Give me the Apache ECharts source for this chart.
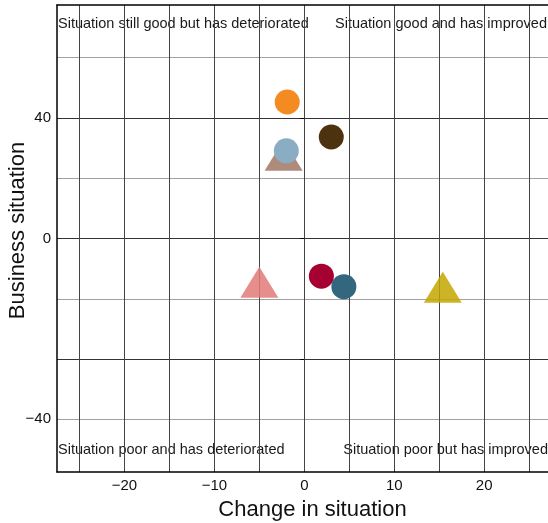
<!DOCTYPE html>
<html>
<head>
<meta charset="utf-8">
<script src="https://cdn.jsdelivr.net/npm/echarts@6/dist/echarts.min.js"></script>
<style>
  html, body { margin: 0; padding: 0; background: #fff; }
  #chart { width: 548px; height: 523px; }
</style>
</head>
<body>
<div id="chart"></div>
<script>
// values
const firms = ['A', 'B', 'C', 'D', 'E', 'F', 'G', 'H'];
const changeInSituation = [-1.9, 3.0, -2.3, -2.0, 1.9, 4.4, -5.0, 15.4];
const businessSituation = [45.3, 33.7, 27.6, 29.1, -12.5, -16.0, -14.5, -16.2];

const xTickLabels = [-20, -10, 0, 10, 20];
const yTickValues = [40, 0, -40];
// the original puts its "-40" label on the -60 line, keep it that way
const yLabelValues = [40, 0, -60];
const yLabelTexts = ['40', '0', '\u221240'];

const quadrantTexts = [
  'Situation still good but has deteriorated',
  'Situation good and has improved',
  'Situation poor and has deteriorated',
  'Situation poor but has improved'
];

// styles
const markerColors = ['#f38a22', '#4d3210', '#a07765', '#8badc4', '#a60032', '#33667f', '#e07a77', '#c4a700'];
const markerShapes = ['circle', 'circle', 'triangle', 'circle', 'circle', 'circle', 'triangle', 'triangle'];

// horizontal grid: grey every 40 from -60, dark every 40 from -40 (ticks every 2.5 from -77.5)
const yLineColors = [];
for (let i = 0; i < 16; i++) yLineColors.push('rgba(0,0,0,0)');
yLineColors[7] = '#a0a0a0';
yLineColors[15] = '#333';

const minus = v => String(v).replace('-', '\u2212');
const font = 'Liberation Sans, Arial, sans-serif';

const chart = echarts.init(document.getElementById('chart'));

const series = firms.map((f, i) => ({
  type: 'scatter',
  name: f,
  data: [[changeInSituation[i], businessSituation[i]]],
  symbol: markerShapes[i],
  symbolSize: markerShapes[i] === 'triangle' ? [38, 31] : 25,
  itemStyle: { color: markerColors[i], opacity: markerShapes[i] === 'triangle' ? 0.85 : 1 },
  emphasis: { disabled: true }
}));

const option = {
  animation: false,
  grid: { left: 57, right: 0, top: 5, bottom: 51, containLabel: false, outerBoundsMode: 'none' },
  xAxis: [
    {
      type: 'value',
      min: -27.5,
      max: 27.1,
      interval: 2.5,
      position: 'bottom',
      axisLine: { show: true, onZero: false, lineStyle: { color: '#000', width: 1.5 } },
      axisTick: { show: false },
      axisLabel: {
        color: '#111', fontSize: 15, fontFamily: font, margin: 6,
        formatter: v => xTickLabels.indexOf(Math.round(v * 100) / 100) >= 0 ? minus(Math.round(v)) : ''
      },
      splitLine: { show: true, lineStyle: { color: ['rgba(0,0,0,0)', '#444'], width: 1 } },
      name: 'Change in situation',
      nameLocation: 'middle',
      nameGap: 27,
      nameTextStyle: { fontSize: 22, color: '#111', fontFamily: font, padding: [0, 0, 0, 20] }
    },
    {
      type: 'value',
      min: -27.5,
      max: 27.1,
      position: 'top',
      axisLine: { show: true, onZero: false, lineStyle: { color: '#000', width: 1.5 } },
      axisTick: { show: false },
      axisLabel: { show: false },
      splitLine: { show: false }
    }
  ],
  yAxis: [
    {
      type: 'value',
      min: -77.5,
      max: 77.5,
      interval: 2.5,
      position: 'left',
      axisLine: { show: true, onZero: false, lineStyle: { color: '#000', width: 1.5 } },
      axisTick: { show: false },
      axisLabel: { show: false },
      splitLine: { show: true, lineStyle: { color: yLineColors, width: 1.2 } },
      name: 'Business situation',
      nameLocation: 'middle',
      nameGap: 28,
      nameRotate: 90,
      nameTextStyle: { fontSize: 22, color: '#111', fontFamily: font, padding: [0, 0, 0, 16] }
    },
    {
      type: 'value',
      min: -77.5,
      max: 77.5,
      position: 'left',
      axisLine: { show: false },
      axisTick: { show: true, length: 4, customValues: yTickValues, lineStyle: { color: '#000' } },
      axisLabel: {
        customValues: yLabelValues,
        color: '#111', fontSize: 15, fontFamily: font, margin: 6,
        formatter: v => {
          const k = yLabelValues.indexOf(Math.round(v));
          return k >= 0 ? yLabelTexts[k] : '';
        }
      },
      splitLine: { show: false }
    }
  ],
  graphic: [
    { type: 'text', left: 58, top: 16, style: { text: quadrantTexts[0], font: '14.5px ' + font, fill: '#1a1a1a' } },
    { type: 'text', right: 1, top: 16, style: { text: quadrantTexts[1], font: '14.5px ' + font, fill: '#1a1a1a' } },
    { type: 'text', left: 58, top: 442, style: { text: quadrantTexts[2], font: '14.5px ' + font, fill: '#1a1a1a' } },
    { type: 'text', right: 0, top: 442, style: { text: quadrantTexts[3], font: '14.5px ' + font, fill: '#1a1a1a' } }
  ],
  series: series
};

chart.setOption(option);
</script>
</body>
</html>
